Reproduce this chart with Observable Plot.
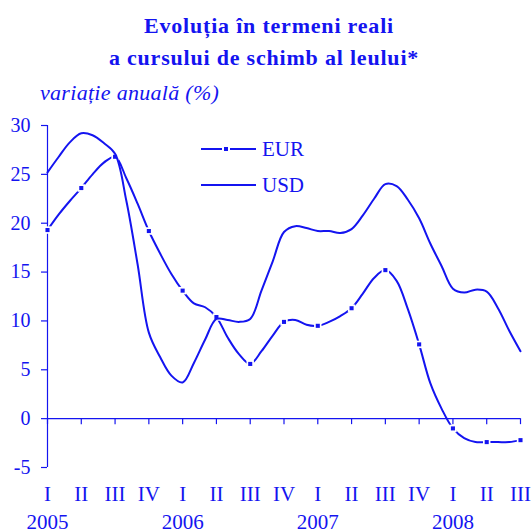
<!DOCTYPE html>
<html>
<head>
<meta charset="utf-8">
<script src="https://cdn.jsdelivr.net/npm/d3@7"></script>
<script src="https://cdn.jsdelivr.net/npm/@observablehq/plot@0.6"></script>
<style>
  html, body { margin: 0; padding: 0; background: #fff; }
  #wrap { position: relative; width: 532px; height: 532px; overflow: hidden; font-family: "Liberation Serif", "Times New Roman", serif; color: #1414f0; }
  .t { position: absolute; left: 0; width: 532px; text-align: center; font-weight: bold; font-size: 22px; line-height: 32px; letter-spacing: 0.8px; white-space: nowrap; }
  #sub { position: absolute; left: 40px; top: 83px; font-style: italic; font-size: 22px; line-height: 20px; letter-spacing: 0.3px; white-space: nowrap; }
  #chart { position: absolute; left: 0; top: 105px; }
  .lg { position: absolute; left: 201px; height: 20px; display: flex; align-items: center; font-size: 21px; white-space: nowrap; }
  .lg svg { margin-right: 5px; }
</style>
</head>
<body>
<div id="wrap">
  <div class="t" style="top:10px; left:3px;">Evoluția în termeni reali</div>
  <div class="t" style="top:42px; left:-2px;">a cursului de schimb al leului*</div>
  <div id="sub">variație anuală (%)</div>
  <div id="chart"></div>
  <div class="lg" style="top:139px;"><svg width="56" height="12"></svg><span>EUR</span></div>
  <div class="lg" style="top:175px;"><svg width="56" height="12"></svg><span>USD</span></div>
</div>
<script>
const blue = "#1414f0";
const quarterLabels = ["I","II","III","IV","I","II","III","IV","I","II","III","IV","I","II","III"];
const yearLabels = ["2005","2006","2007","2008"];
const yTicks = [-5, 0, 5, 10, 15, 20, 25, 30];
const seriesNames = ["EUR", "USD"];
// monthly values, Jan 2005 .. Jul 2008
const eur = [19.3, 20.9, 22.3, 23.6, 25.0, 26.2, 26.8, 24.6, 22.0, 19.2, 16.9, 14.8,
             13.1, 11.8, 11.4, 10.4, 8.3, 6.6, 5.6, 6.9, 8.5, 9.9, 10.1, 9.6,
             9.5, 9.9, 10.5, 11.3, 12.8, 14.4, 15.2, 14.1, 11.2, 7.6, 3.6, 1.0,
             -1.0, -2.0, -2.4, -2.4, -2.4, -2.4, -2.2];
const usd = [25.2, 26.8, 28.3, 29.2, 29.0, 28.2, 27.1, 22.3, 15.8, 8.8, 6.3, 4.4,
             3.7, 5.7, 8.1, 10.2, 10.1, 9.9, 10.2, 13.1, 16.1, 19.1, 19.7, 19.5,
             19.2, 19.2, 19.0, 19.4, 20.8, 22.5, 24.0, 23.8, 22.4, 20.5, 17.9, 15.6,
             13.3, 12.9, 13.2, 13.0, 11.3, 9.0, 6.9];

const eurData = eur.map((v, m) => ({x: m / 3, v}));
const usdData = usd.map((v, m) => ({x: m / 3, v}));
const eurQ = eurData.filter((d, m) => m % 3 === 0);
const qIdx = d3.range(quarterLabels.length);
const yIdx = d3.range(yearLabels.length).map(i => i * 4);

const plot = Plot.plot({
  width: 532,
  height: 427,
  marginLeft: 47,
  marginRight: 12,
  marginTop: 20,
  marginBottom: 65,
  x: {domain: [0, quarterLabels.length - 1], axis: null},
  y: {domain: [d3.min(yTicks), d3.max(yTicks)]},
  style: {fontFamily: "'Liberation Serif', 'Times New Roman', serif", color: blue, background: "transparent", overflow: "visible"},
  marks: [
    Plot.ruleX([0], {y1: d3.min(yTicks), y2: d3.max(yTicks), stroke: blue, strokeWidth: 1.2}),
    Plot.ruleY([0], {x1: 0, x2: quarterLabels.length - 1, stroke: blue, strokeWidth: 1.2}),
    Plot.axisY({ticks: yTicks, tickFormat: d => String(d), tickSize: 6, tickPadding: 11, fontSize: 20, stroke: blue, strokeWidth: 1.2, label: null, fill: blue}),
    Plot.ruleX(qIdx, {x: d => d, y1: 0, y2: 0, insetBottom: -6, stroke: blue, strokeWidth: 1.2}),
    Plot.text(qIdx, {x: d => d, text: d => quarterLabels[d], frameAnchor: "bottom", lineAnchor: "bottom", dy: 33, fontSize: 21, fill: blue}),
    Plot.text(yIdx, {x: d => d, text: d => yearLabels[d / 4], frameAnchor: "bottom", lineAnchor: "bottom", dy: 61, fontSize: 21, fill: blue}),
    Plot.line(eurData, {x: "x", y: "v", stroke: blue, strokeWidth: 2, curve: "catmull-rom"}),
    Plot.dot(eurQ, {x: "x", y: "v", symbol: "square", r: 4.2, fill: "white", stroke: "none"}),
    Plot.dot(eurQ, {x: "x", y: "v", symbol: "square", r: 2.3, fill: blue, stroke: "none"}),
    Plot.line(usdData, {x: "x", y: "v", stroke: blue, strokeWidth: 2, curve: "catmull-rom"})
  ]
});
document.getElementById("chart").appendChild(plot);

// legend swatches
const sw = document.querySelectorAll(".lg svg");
const ns = "http://www.w3.org/2000/svg";
sw.forEach((s, i) => {
  const l = document.createElementNS(ns, "line");
  l.setAttribute("x1", 0); l.setAttribute("x2", 55); l.setAttribute("y1", 6); l.setAttribute("y2", 6);
  l.setAttribute("stroke", blue); l.setAttribute("stroke-width", 2);
  s.appendChild(l);
  if (seriesNames[i] === "EUR") {
    const g = document.createElementNS(ns, "rect");
    g.setAttribute("x", 21); g.setAttribute("y", 2); g.setAttribute("width", 8); g.setAttribute("height", 8); g.setAttribute("fill", "white");
    s.appendChild(g);
    const r = document.createElementNS(ns, "rect");
    r.setAttribute("x", 23); r.setAttribute("y", 4); r.setAttribute("width", 4); r.setAttribute("height", 4); r.setAttribute("fill", blue);
    s.appendChild(r);
  }
});
</script>
</body>
</html>
